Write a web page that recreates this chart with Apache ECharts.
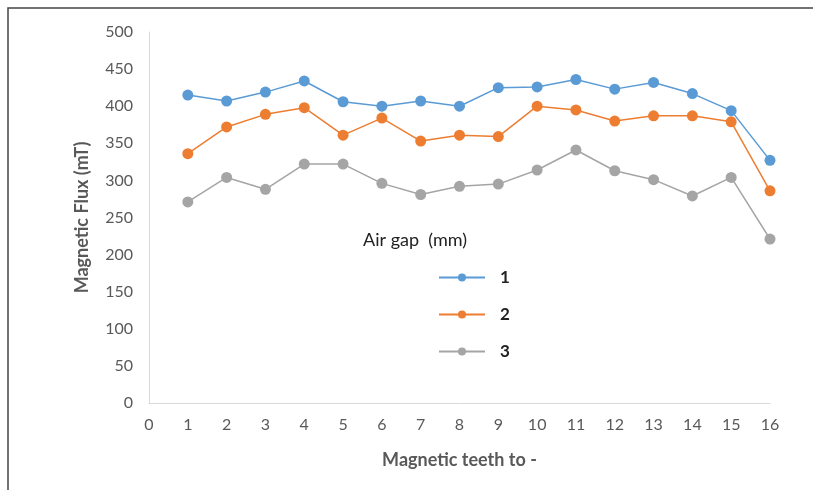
<!DOCTYPE html>
<html>
<head>
<meta charset="utf-8">
<script src="https://cdn.jsdelivr.net/npm/echarts@6/dist/echarts.min.js"></script>
<style>
  html, body { margin: 0; padding: 0; background: #fff; }
  #chart { width: 813px; height: 490px; }
</style>
</head>
<body>
<div id="chart"></div>
<script>
// teeth positions 1..16
const teeth = [1, 2, 3, 4, 5, 6, 7, 8, 9, 10, 11, 12, 13, 14, 15, 16]
// air gap 1 mm
const gap1 = [415, 407, 419, 434, 406, 400, 407, 400, 425, 426, 436, 423, 432, 417, 394, 327]
// air gap 2 mm
const gap2 = [336, 372, 389, 398, 361, 384, 353, 361, 359, 400, 395, 380, 387, 387, 379, 286]
// air gap 3 mm
const gap3 = [271, 304, 288, 322, 322, 296, 281, 292, 295, 314, 341, 313, 301, 279, 304, 221]

const seriesNames = ['1', '2', '3']
const colors = ['#5B9BD5', '#ED7D31', '#A5A5A5']
const font = 'Lato, sans-serif'

const chart = echarts.init(document.getElementById('chart'))

const pairs = (vals) => teeth.map((t, i) => [t, vals[i]])

chart.setOption({
  animation: false,
  color: colors,
  title: {
    text: 'Air gap  (mm)',
    left: 358,
    top: 226,
    textStyle: { fontFamily: font, fontSize: 18, fontWeight: 'normal', color: '#222' }
  },
  legend: {
    orient: 'vertical',
    left: 433,
    top: 264,
    itemWidth: 46,
    itemHeight: 10,
    itemGap: 20,
    textStyle: { fontFamily: font, fontSize: 17, fontWeight: 'bold', color: '#222', padding: [0, 0, 0, 10] },
    data: seriesNames
  },
  graphic: [{
    type: 'polyline',
    shape: { points: [[8, 490], [8, 8], [813, 8]] },
    style: { stroke: '#444', lineWidth: 1.5, fill: null }
  }],
  grid: { left: 149, right: 43, top: 32, bottom: 87 },
  xAxis: {
    type: 'value',
    min: 0, max: 16, interval: 1,
    name: 'Magnetic teeth to -',
    nameLocation: 'middle',
    nameGap: 48,
    nameTextStyle: { fontFamily: font, fontSize: 18, fontWeight: 'bold', color: '#595959' },
    axisLine: { lineStyle: { color: '#D9D9D9', width: 1 } },
    axisTick: { show: false },
    splitLine: { show: false },
    axisLabel: { fontFamily: font, fontSize: 16, color: '#595959', margin: 14 }
  },
  yAxis: {
    type: 'value',
    min: 0, max: 500, interval: 50,
    name: 'Magnetic Flux (mT)',
    nameLocation: 'middle',
    nameGap: 58,
    nameTextStyle: { fontFamily: font, fontSize: 18, fontWeight: 'bold', color: '#595959' },
    axisLine: { show: true, lineStyle: { color: '#D9D9D9', width: 1 } },
    axisTick: { show: false },
    splitLine: { show: false },
    axisLabel: { fontFamily: font, fontSize: 16, color: '#595959', margin: 16 }
  },
  series: [gap1, gap2, gap3].map((vals, i) => ({
    name: seriesNames[i],
    type: 'line',
    data: pairs(vals),
    symbol: 'circle',
    symbolSize: 11,
    lineStyle: { width: 1.5, color: colors[i] },
    itemStyle: { color: colors[i] }
  }))
})
</script>
</body>
</html>
